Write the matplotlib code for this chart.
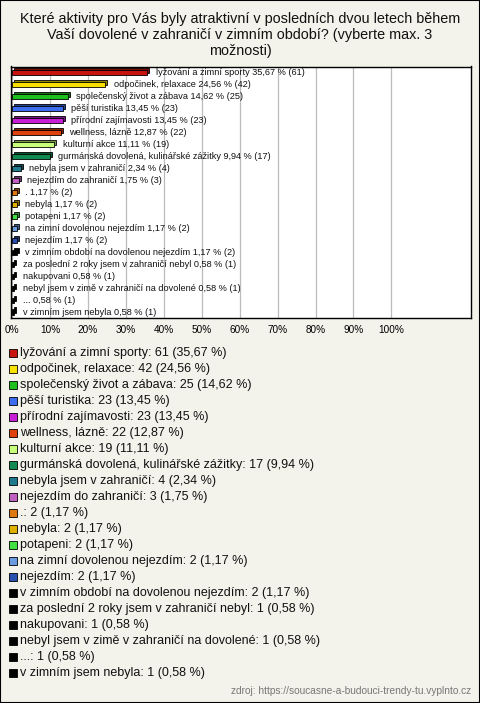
import matplotlib
matplotlib.use("Agg")
import matplotlib.pyplot as plt
from matplotlib.patches import Rectangle
import matplotlib.transforms as mtransforms
import matplotlib.colors as mcolors

plt.rcParams['font.family'] = ['Liberation Sans', 'DejaVu Sans']

labels = [
    "lyžování a zimní sporty", "odpočinek, relaxace", "společenský život a zábava",
    "pěší turistika", "přírodní zajímavosti", "wellness, lázně", "kulturní akce",
    "gurmánská dovolená, kulinářské zážitky", "nebyla jsem v zahraničí",
    "nejezdím do zahraničí", ".", "nebyla", "potapeni", "na zimní dovolenou nejezdím",
    "nejezdím", "v zimním období na dovolenou nejezdím",
    "za poslední 2 roky jsem v zahraničí nebyl", "nakupovani",
    "nebyl jsem v zimě v zahraničí na dovolené", "...", "v zimním jsem nebyla",
]
counts = [61, 42, 25, 23, 23, 22, 19, 17, 4, 3, 2, 2, 2, 2, 2, 2, 1, 1, 1, 1, 1]
percents = [35.67, 24.56, 14.62, 13.45, 13.45, 12.87, 11.11, 9.94, 2.34, 1.75,
            1.17, 1.17, 1.17, 1.17, 1.17, 1.17, 0.58, 0.58, 0.58, 0.58, 0.58]
colors = ["#C8140E", "#F8E000", "#1EC01E", "#3C6CF0", "#C81ED8", "#E0400A",
          "#C8FF7A", "#108A50", "#1E7A8C", "#C060C0", "#E07810", "#E0B000",
          "#40E040", "#6A9AE0", "#2850B0", "#000000", "#000000", "#000000",
          "#000000", "#000000", "#000000"]
xticks = [0, 10, 20, 30, 40, 50, 60, 70, 80, 90, 100]

W, H = 480, 703
fig = plt.figure(figsize=(W / 100, H / 100), dpi=100)
fig.patch.set_facecolor("#F3F2EB")
fig.patches.append(Rectangle((0, 0), 1, 1, transform=fig.transFigure,
                             fill=False, edgecolor="black", linewidth=1.5))

def fx(px):
    return px / W

def fy(py):
    return 1 - py / H

def pct(p):
    return f"{p:.2f}".replace(".", ",")

fig.text(0.5, fy(35), "Které aktivity pro Vás byly atraktivní v posledních dvou letech během\n"
         "Vaší dovolené v zahraničí v zimním období? (vyberte max. 3\nmožnosti)",
         ha="center", va="center", fontsize=10.4, linespacing=1.2, color="#111111")

ax = fig.add_axes([fx(11), fy(318), fx(471) - fx(11), fy(66.5) - fy(318)])
ax.set_facecolor("white")
n = len(labels)
ys = list(range(n))
ax.set_ylim(n - 0.5, -0.5)
ax.set_xlim(-0.3, 121)
for t in xticks:
    ax.axvline(t, color="#BBBBBB", linewidth=0.9, zorder=0)

depth = mtransforms.ScaledTranslation(2 / 100, 2 / 100, fig.dpi_scale_trans)
for i in range(n):
    c = colors[i]
    dark = tuple(v * 0.6 for v in mcolors.to_rgb(c))
    ax.barh(ys[i], percents[i], height=0.42, left=0, color=dark, edgecolor="black",
            linewidth=0.6, transform=ax.transData + depth, zorder=2)
    ax.barh(ys[i], percents[i], height=0.42, left=0, color=c, edgecolor="black",
            linewidth=0.6, zorder=3)
    ax.annotate(f"{labels[i]} {pct(percents[i])} % ({counts[i]})",
                xy=(percents[i], ys[i]), xytext=(6, 0), textcoords="offset points",
                ha="left", va="center", fontsize=6.6, color="#111111", zorder=4)

ax.set_xticks(xticks)
ax.set_xticklabels([f"{t}%" for t in xticks], fontsize=7.2)
ax.set_yticks([])
ax.tick_params(axis="x", length=0, pad=5)
for s in ax.spines.values():
    s.set_linewidth(1.0)
    s.set_color("black")

for i in range(n):
    yc = 353 + i * 16.0
    fig.patches.append(Rectangle((fx(9), fy(yc + 4)), fx(8), fy(yc - 4) - fy(yc + 4),
                                 transform=fig.transFigure, facecolor=colors[i],
                                 edgecolor="black", linewidth=0.6))
    fig.text(fx(20), fy(yc), f"{labels[i]}: {counts[i]} ({pct(percents[i])} %)",
             ha="left", va="center", fontsize=9.0, color="#111111")

fig.text(fx(471), fy(691), "zdroj: https://soucasne-a-budouci-trendy-tu.vyplnto.cz",
         ha="right", va="center", fontsize=7.3, color="#777777")

fig.savefig("out.png", dpi=100, facecolor=fig.get_facecolor())
